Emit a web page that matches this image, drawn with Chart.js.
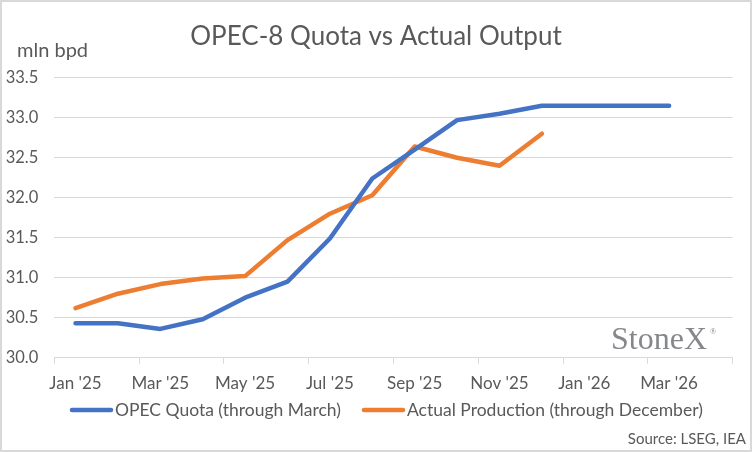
<!DOCTYPE html>
<html>
<head>
<meta charset="utf-8">
<script src="https://cdn.jsdelivr.net/npm/chart.js@4.4.1/dist/chart.umd.min.js"></script>
<style>
html,body{margin:0;padding:0;background:#fff;}
#wrap{width:752px;height:452px;position:relative;}
</style>
</head>
<body>
<div id="wrap"><canvas id="c" width="752" height="452"></canvas></div>
<script>
const months = ["Jan '25","Feb '25","Mar '25","Apr '25","May '25","Jun '25","Jul '25","Aug '25","Sep '25","Oct '25","Nov '25","Dec '25","Jan '26","Feb '26","Mar '26","Apr '26"];
const quota = [30.43,30.43,30.36,30.48,30.75,30.95,31.49,32.24,32.60,32.97,33.05,33.15,33.15,33.15,33.15,null];
const actual = [30.62,30.80,30.92,30.99,31.02,31.47,31.80,32.03,32.64,32.50,32.40,32.80,null,null,null,null];
const yTicks = [30.0,30.5,31.0,31.5,32.0,32.5,33.0,33.5];
const titleText = "OPEC-8 Quota vs Actual Output";
const unitText = "mln bpd";
const sourceText = "Source: LSEG, IEA";
const logoText = "StoneX";

const textColor = '#595959';
const gridColor = '#d9d9d9';
const FONT = 'Lato, Carlito, "Open Sans", sans-serif';

const decor = {
  id:'decor',
  beforeDraw(chart){
    const ctx = chart.ctx;
    ctx.save();
    ctx.fillStyle = '#fff';
    ctx.fillRect(0,0,chart.width,chart.height);
    ctx.restore();
  },
  afterDraw(chart){
    const ctx = chart.ctx;
    ctx.save();
    // title
    ctx.fillStyle = textColor;
    ctx.textAlign = 'center';
    ctx.textBaseline = 'middle';
    ctx.font = '26px ' + FONT;
    ctx.fillText(titleText, 376, 37);
    // unit
    ctx.textAlign = 'left';
    ctx.font = '20px ' + FONT;
    ctx.fillText(unitText, 17, 51);
    // source
    ctx.textAlign = 'right';
    ctx.font = '15px ' + FONT;
    ctx.fillText(sourceText, 746, 439);
    // legend
    const items = chart.data.datasets;
    const starts = [70, 362];
    ctx.font = '17.5px ' + FONT;
    ctx.textAlign = 'left';
    items.forEach((ds,i)=>{
      const x = starts[i], y = 410;
      ctx.strokeStyle = ds.borderColor;
      ctx.lineWidth = 4.5;
      ctx.lineCap = 'round';
      ctx.beginPath(); ctx.moveTo(x+2,y); ctx.lineTo(x+41,y); ctx.stroke();
      ctx.fillStyle = textColor;
      ctx.fillText(ds.label, x+45, y);
    });
    // logo
    ctx.fillStyle = '#85878a';
    ctx.textAlign = 'left';
    ctx.textBaseline = 'alphabetic';
    ctx.font = '32px "Liberation Serif", "Times New Roman", serif';
    ctx.fillText(logoText, 611, 349);
    ctx.font = '8px "Liberation Serif", serif';
    ctx.fillText('®', 710, 334);
    // border
    ctx.strokeStyle = gridColor;
    ctx.lineWidth = 2;
    ctx.strokeRect(1,1,chart.width-2,chart.height-2);
    ctx.restore();
  }
};

new Chart(document.getElementById('c'), {
  type:'line',
  data:{
    labels: months,
    datasets:[
      {label:'OPEC Quota (through March)', data: quota, borderColor:'#4472C4', backgroundColor:'#4472C4', borderWidth:4.5, pointRadius:0, borderCapStyle:'round', borderJoinStyle:'round', tension:0},
      {label:'Actual Production (through December)', data: actual, borderColor:'#ED7D31', backgroundColor:'#ED7D31', borderWidth:4.5, pointRadius:0, borderCapStyle:'round', borderJoinStyle:'round', tension:0}
    ]
  },
  options:{
    responsive:false,
    animation:false,
    devicePixelRatio:1,
    layout:{padding:{top:77.7,left:0,right:19.3,bottom:0}},
    plugins:{legend:{display:false}, title:{display:false}, tooltip:{enabled:false}},
    scales:{
      x:{
        type:'category',
        offset:true,
        afterFit(s){ s.height = 94.3; },
        grid:{
          offset:true, drawOnChartArea:false, drawTicks:true, tickLength:6,
          color:(c)=> (c.index === undefined || c.index % 2 === 0) ? gridColor : 'rgba(0,0,0,0)',
          lineWidth:1
        },
        border:{display:true, color:gridColor, width:1},
        ticks:{
          autoSkip:false, maxRotation:0, minRotation:0, padding:10,
          color:textColor, font:{family:FONT, size:17},
          callback(v,i){ return i % 2 === 0 ? this.getLabelForValue(v) : ''; }
        }
      },
      y:{
        min: yTicks[0], max: yTicks[yTicks.length-1],
        afterFit(s){ s.width = 54.3; },
        afterBuildTicks(s){ s.ticks = yTicks.map(v=>({value:v})); },
        grid:{color:gridColor, lineWidth:1, drawTicks:false},
        border:{display:false},
        ticks:{padding:16, color:textColor, font:{family:FONT, size:16.5}, callback:(v)=>Number(v).toFixed(1)}
      }
    }
  },
  plugins:[decor]
});
</script>
</body>
</html>
